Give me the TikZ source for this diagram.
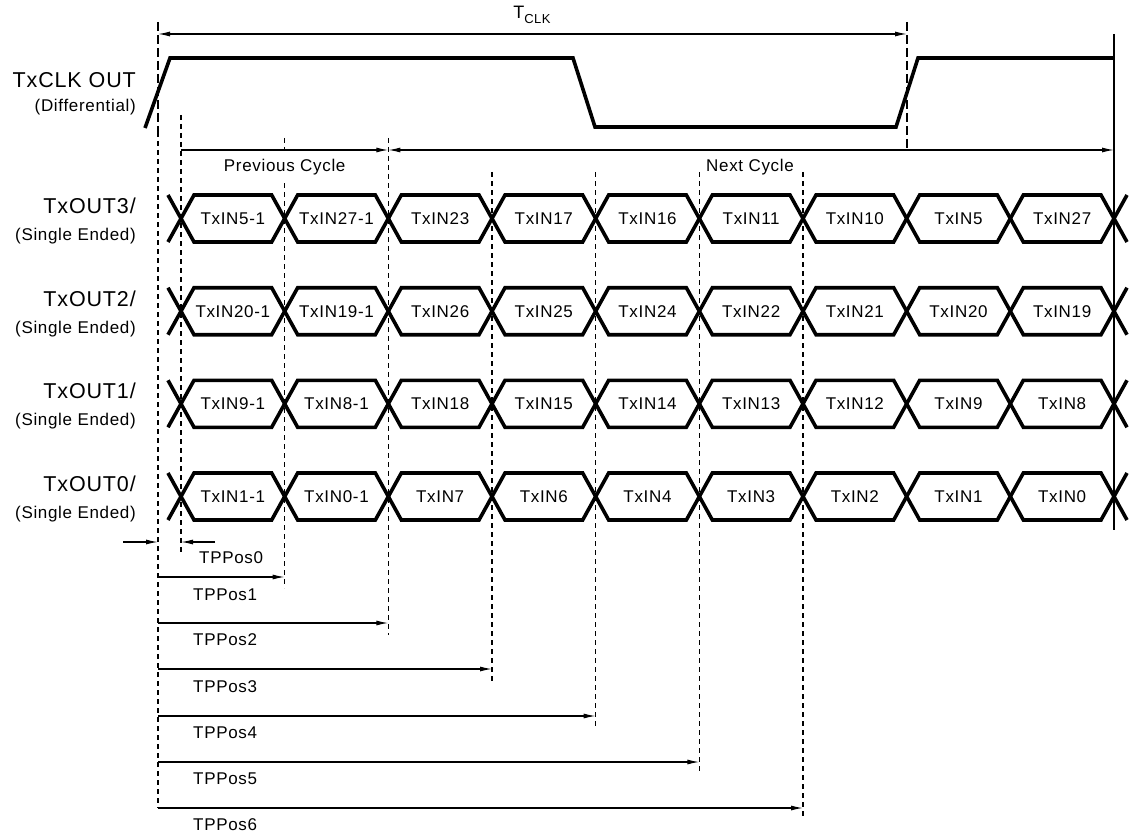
\documentclass[tikz,border=0pt]{standalone}
\usepackage{fontspec}
\setmainfont{Liberation Sans}[LetterSpace=4]
\usetikzlibrary{arrows.meta}
\newcommand\mkrow[3]{%
  \foreach \lab [count=\k from 0] in {#3} {
    \pgfmathsetmacro\ca{181+103.667*\k}
    \pgfmathsetmacro\cb{\ca+103.667}
    \draw[wave] (\ca,#2) -- (\ca+13,#2-23.5) -- (\cb-13,#2-23.5) -- (\cb,#2);
    \draw[wave] (\ca,#2) -- (\ca+13,#2+23.5) -- (\cb-13,#2+23.5) -- (\cb,#2);
    \node[small] (#1-\k) at ({(\ca+\cb)/2},#2) {\lab};
  }
  \draw[wave] (168,#2-23.5) -- (181,#2);
  \draw[wave] (168,#2+23.5) -- (181,#2);
  \draw[wave] (1114,#2) -- (1127,#2-23.5);
  \draw[wave] (1114,#2) -- (1127,#2+23.5);
}
\begin{document}
\begin{tikzpicture}[x=1pt,y=-1pt,
  wave/.style={line width=3.6pt, line join=miter},
  thinline/.style={line width=1.2pt},
  finedash/.style={line width=1.2pt, dash pattern=on 5pt off 4pt},
  longdash/.style={line width=1.2pt, dash pattern=on 9pt off 4pt},
  dim/.style={line width=1.2pt, -{Latex[length=12pt,width=5pt]}},
  ddim/.style={line width=1.2pt, {Latex[length=12pt,width=5pt]}-{Latex[length=12pt,width=5pt]}},
  big/.style={font=\fontsize{21.5}{24}\selectfont, inner sep=0pt},
  small/.style={font=\fontsize{17}{19}\selectfont, inner sep=0pt},
]
\useasboundingbox (0,0) rectangle (1131,837);

% ---- signal names
\node[big, anchor=east] (clk) at (136,80) {TxCLK OUT};
\node[small, anchor=east] (clkd) at (136,107) {(Differential)};
\foreach \n/\yc in {3/218.5, 2/311.2, 1/403.8, 0/496.5} {
  \node[big, anchor=east] (out\n) at (136,\yc-12.5) {TxOUT\n/};
  \node[small, anchor=east] (se\n) at (136,\yc+17.5) {(Single Ended)};
}

% ---- guide lines
\draw[longdash] (158,22) -- (158,132);
\draw[finedash] (158,132) -- (158,808);
\draw[longdash] (907,22) -- (907,148);
\draw[finedash] (181,115) -- (181,555);
\draw[finedash] (284.67,138) -- (284.67,150);
\draw[finedash] (284.67,183) -- (284.67,588);
\draw[finedash] (388.33,138) -- (388.33,635);
\draw[finedash] (492,172) -- (492,682);
\draw[finedash] (595.67,172) -- (595.67,727);
\draw[finedash] (699.33,172) -- (699.33,773);
\draw[finedash] (803,172) -- (803,818);
\draw[thinline] (1114,34) -- (1114,530);

% ---- clock
\draw[wave] (145,128) -- (170,58) -- (573,58) -- (595,127) -- (896,127) -- (918,58) -- (1114,58);

% ---- TCLK
\coordinate (tclkL) at (158,34);
\coordinate (tclkR) at (907,34);
\draw[ddim] (tclkL) -- (tclkR);
\node[inner sep=0pt] (tclk) at (532,15) {\fontsize{18}{20}\selectfont T\raisebox{-5pt}{\fontsize{13}{15}\selectfont CLK}};

% ---- cycles
\coordinate (pcL) at (181,150);
\coordinate (pcR) at (388.33,150);
\coordinate (ncR) at (1114,150);
\draw[dim] (pcL) -- (pcR);
\draw[ddim] (pcR) -- (ncR);
\node[small] (prev) at (284.67,167) {Previous Cycle};
\node[small, anchor=west] (next) at (706,167) {Next Cycle};

% ---- data rows
\mkrow{r3}{218.5}{TxIN5-1,TxIN27-1,TxIN23,TxIN17,TxIN16,TxIN11,TxIN10,TxIN5,TxIN27}
\mkrow{r2}{311.2}{TxIN20-1,TxIN19-1,TxIN26,TxIN25,TxIN24,TxIN22,TxIN21,TxIN20,TxIN19}
\mkrow{r1}{403.8}{TxIN9-1,TxIN8-1,TxIN18,TxIN15,TxIN14,TxIN13,TxIN12,TxIN9,TxIN8}
\mkrow{r0}{496.5}{TxIN1-1,TxIN0-1,TxIN7,TxIN6,TxIN4,TxIN3,TxIN2,TxIN1,TxIN0}

% ---- TPPos0
\coordinate (p0a) at (123,542);
\coordinate (p0b) at (158,542);
\coordinate (p0c) at (215,542);
\coordinate (p0d) at (181,542);
\draw[dim] (p0a) -- (p0b);
\draw[dim] (p0c) -- (p0d);
\node[small, anchor=west] (tp0) at (199,558) {TPPos0};

% ---- TPPos1..6
\foreach \i/\xe/\ya/\yl in {1/284.67/577/595, 2/388.33/623/640, 3/492/669/687, 4/595.67/716/733, 5/699.33/762/779, 6/803/808/825} {
  \coordinate (s\i) at (158,\ya);
  \coordinate (e\i) at (\xe,\ya);
  \draw[dim] (s\i) -- (e\i);
  \node[small, anchor=west] (tp\i) at (193,\yl) {TPPos\i};
}
\end{tikzpicture}
\end{document}
